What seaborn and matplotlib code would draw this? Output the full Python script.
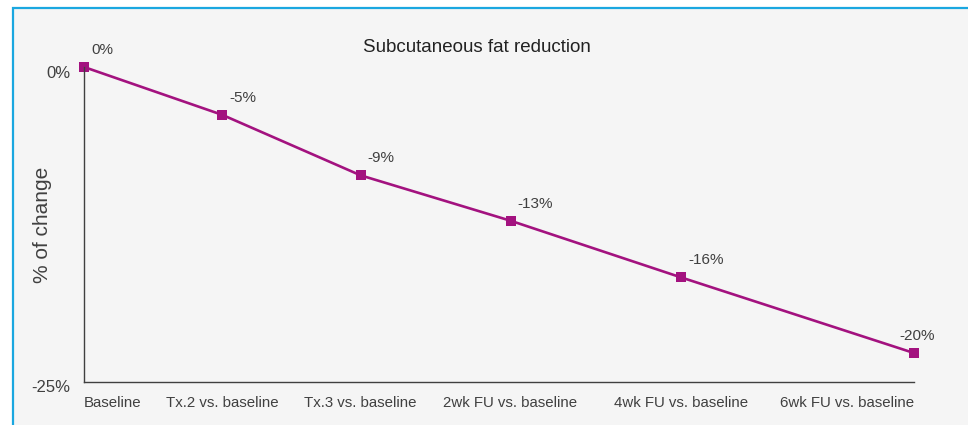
import matplotlib
matplotlib.use("Agg")
import matplotlib.pyplot as plt
import matplotlib.transforms as mtransforms
import seaborn as sns
import pandas as pd
from matplotlib.patches import Rectangle

# ---- data ----
categories = ["Baseline", "Tx.2 vs. baseline", "Tx.3 vs. baseline",
              "2wk FU vs. baseline", "4wk FU vs. baseline", "6wk FU vs. baseline"]
x_weeks = [0, 3, 6, 9.25, 12.95, 18]
values = [0, -3.8, -8.6, -12.2, -16.7, -22.7]
value_labels = ["0%", "-5%", "-9%", "-13%", "-16%", "-20%"]
y_ticks = [0, -25]
y_tick_labels = ["0%", "-25%"]

df = pd.DataFrame({"x": x_weeks, "value": values, "category": categories})

sns.set_theme(style="white")
plt.rcParams["font.family"] = ["Liberation Sans", "DejaVu Sans"]

W, H = 968, 425
fig = plt.figure(figsize=(W / 100, H / 100), dpi=100, facecolor="white")
# light gray panel with blue border
fig.patches.append(Rectangle((13 / W, -0.1), 1.2, 1 - 8 / H + 0.1, transform=fig.transFigure,
                             facecolor="#f5f5f5", edgecolor="#1aa7e0", linewidth=1.6, zorder=-10))

ax = fig.add_axes([84 / W, 1 - 382 / H, (914 - 84) / W, (382 - 67) / H])
ax.set_facecolor("none")

color = "#a3127f"
sns.lineplot(data=df, x="x", y="value", ax=ax, color=color, linewidth=1.9,
             marker="s", markersize=7.5, markeredgewidth=0, clip_on=False)

ax.set_xlim(x_weeks[0], x_weeks[-1])
ax.set_ylim(-25, 0)
ax.set_yticks(y_ticks)
ax.set_yticklabels(y_tick_labels, fontsize=12, color="#404040")
ax.set_xticks(x_weeks)
ax.set_xticklabels(categories, fontsize=10.8, color="#404040")
labels = ax.get_xticklabels()
labels[0].set_horizontalalignment("left")
labels[-1].set_horizontalalignment("right")
ax.tick_params(axis="x", direction="out", length=5, width=1, color="#404040", pad=5)
ax.tick_params(axis="y", length=0, pad=10)
shift = mtransforms.ScaledTranslation(0, -0.045, fig.dpi_scale_trans)
for t in ax.get_yticklabels():
    t.set_transform(t.get_transform() + shift)

for s in ["top", "right"]:
    ax.spines[s].set_visible(False)
for s in ["left", "bottom"]:
    ax.spines[s].set_color("#404040")
    ax.spines[s].set_linewidth(1)

ax.set_xlabel("")
ax.set_ylabel("")
fig.text(43 / W, 1 - 225 / H, "% of change", rotation=90, ha="center", va="center",
         fontsize=15, color="#404040")

for xv, yv, lab in zip(x_weeks, values, value_labels):
    dx = -15 if xv == x_weeks[-1] else 7
    ax.annotate(lab, (xv, yv), xytext=(dx, 17), textcoords="offset pixels",
                ha="left", va="center", fontsize=11, color="#404040", annotation_clip=False)

fig.text(477 / W, 1 - 47 / H, "Subcutaneous fat reduction", ha="center", va="center",
         fontsize=13.5, color="#222222")

fig.savefig("out.png", dpi=100, facecolor="white")
